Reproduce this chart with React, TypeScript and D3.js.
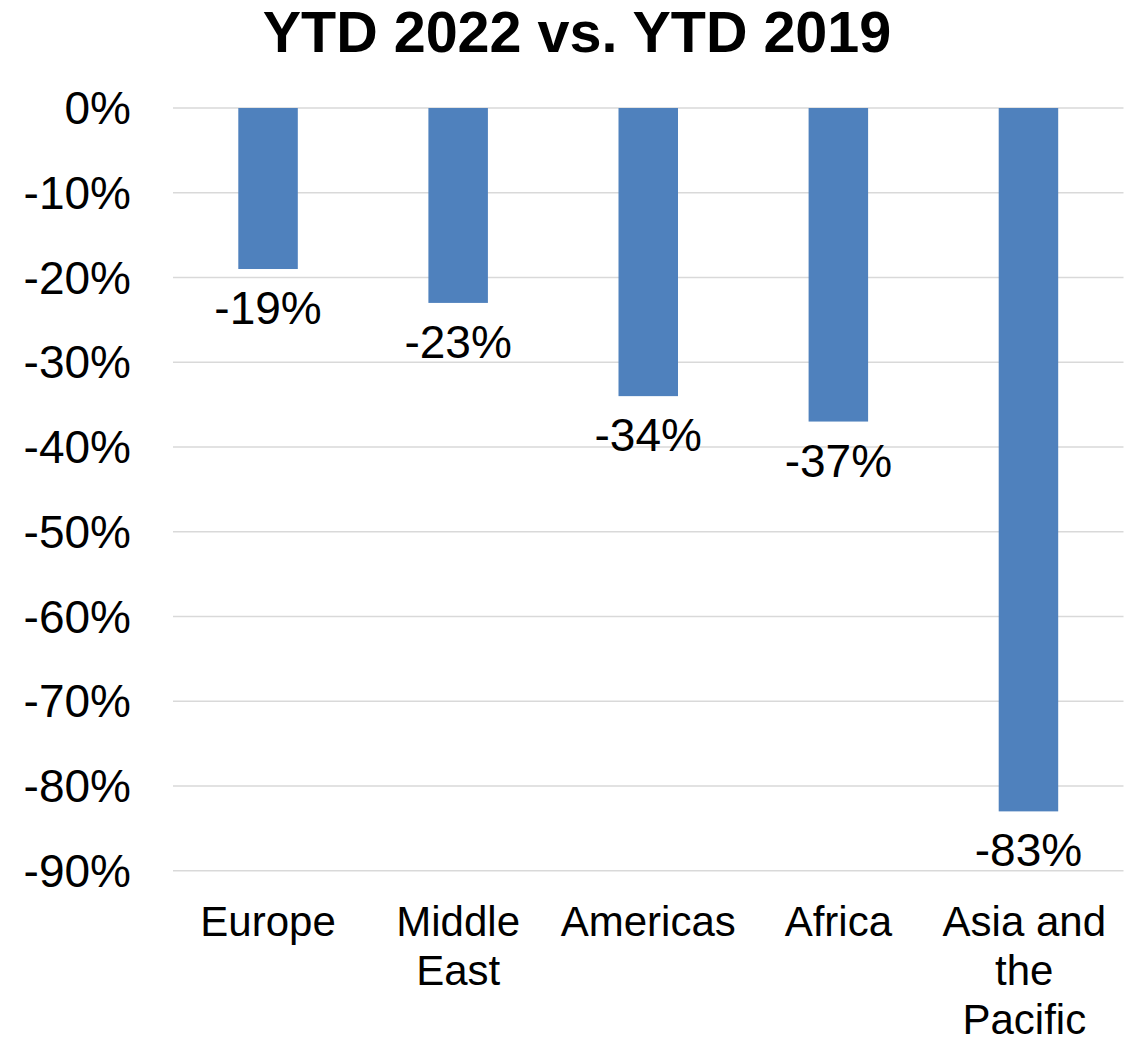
import React, { useEffect, useRef } from "react";
import * as d3 from "d3";

const categories: string[] = ["Europe", "Middle East", "Americas", "Africa", "Asia and the Pacific"];
const values: number[] = [-0.19, -0.23, -0.34, -0.37, -0.83];
const yTicks: number[] = [0, -0.1, -0.2, -0.3, -0.4, -0.5, -0.6, -0.7, -0.8, -0.9];
const title = "YTD 2022 vs. YTD 2019";

const W = 1136;
const H = 1037;
const FONT = "'Liberation Sans', Arial, Helvetica, sans-serif";

export default function App() {
  const ref = useRef<SVGSVGElement | null>(null);

  useEffect(() => {
    const svg = d3.select(ref.current);
    svg.selectAll("*").remove();

    const left = 173;
    const right = 1123.5;
    const top = 108;
    const bottom = 870.7;

    const x = d3.scaleBand<string>().domain(categories).range([left, right]).padding(0);
    const y = d3.scaleLinear().domain([-0.9, 0]).range([bottom, top]);
    const barW = x.bandwidth() * 0.313;
    const pct = d3.format(".0%");
    const fmt = (v: number) => pct(v).replace("\u2212", "-");

    svg
      .append("text")
      .attr("x", 577)
      .attr("y", 52)
      .attr("text-anchor", "middle")
      .attr("font-family", FONT)
      .attr("font-weight", "bold")
      .attr("font-size", 57.5)
      .attr("fill", "#000")
      .text(title);

    const grid = svg.append("g");
    grid
      .selectAll("line")
      .data(yTicks)
      .join("line")
      .attr("x1", left)
      .attr("x2", right)
      .attr("y1", (d) => y(d))
      .attr("y2", (d) => y(d))
      .attr("stroke", "#D9D9D9")
      .attr("stroke-width", 1.6);

    svg
      .append("g")
      .selectAll("text")
      .data(yTicks)
      .join("text")
      .attr("x", 131)
      .attr("y", (d) => y(d))
      .attr("dy", "0.35em")
      .attr("text-anchor", "end")
      .attr("font-family", FONT)
      .attr("font-size", 46)
      .attr("fill", "#000")
      .text((d) => fmt(d));

    svg
      .append("g")
      .selectAll("rect")
      .data(values)
      .join("rect")
      .attr("x", (_d, i) => (x(categories[i]) as number) + x.bandwidth() / 2 - barW / 2)
      .attr("y", y(0))
      .attr("width", barW)
      .attr("height", (d) => y(d) - y(0))
      .attr("fill", "#4F81BD");

    svg
      .append("g")
      .selectAll("text")
      .data(values)
      .join("text")
      .attr("x", (_d, i) => (x(categories[i]) as number) + x.bandwidth() / 2)
      .attr("y", (d) => y(d) + 55)
      .attr("text-anchor", "middle")
      .attr("font-family", FONT)
      .attr("font-size", 46)
      .attr("fill", "#000")
      .text((d) => fmt(d));

    const catG = svg.append("g");
    const baseY = 936;
    const lineH = 49;
    const maxRight = 1106;
    categories.forEach((c) => {
      const cx = (x(c) as number) + x.bandwidth() / 2;
      const t = catG
        .append("text")
        .attr("text-anchor", "middle")
        .attr("font-family", FONT)
        .attr("font-size", 42)
        .attr("fill", "#000");
      const words = c.split(" ");
      const lines: string[] = [];
      let line: string[] = [];
      const probe = t.append("tspan");
      words.forEach((w) => {
        line.push(w);
        probe.text(line.join(" "));
        const len = (probe.node() as SVGTSpanElement).getComputedTextLength();
        if (len > x.bandwidth() - 8 && line.length > 1) {
          line.pop();
          lines.push(line.join(" "));
          line = [w];
        }
      });
      if (line.length) lines.push(line.join(" "));
      probe.remove();
      // measure widest line to keep the block inside the plot
      let maxLen = 0;
      lines.forEach((l) => {
        const p = t.append("tspan").text(l);
        maxLen = Math.max(maxLen, (p.node() as SVGTSpanElement).getComputedTextLength());
        p.remove();
      });
      const center = Math.min(cx, maxRight - maxLen / 2);
      lines.forEach((l, i) => {
        t.append("tspan").attr("x", center).attr("y", baseY + i * lineH).text(l);
      });
    });
  }, []);

  return (
    <svg
      ref={ref}
      width={W}
      height={H}
      style={{ display: "block", position: "absolute", left: 0, top: 0, background: "#fff" }}
    />
  );
}
